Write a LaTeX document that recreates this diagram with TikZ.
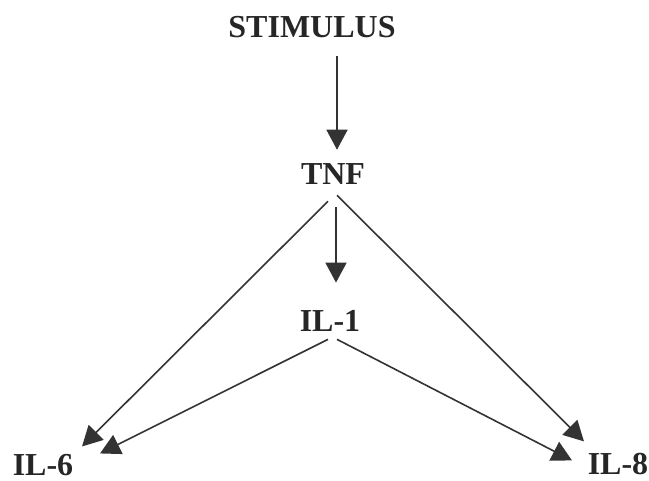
\documentclass[tikz,border=0pt]{standalone}
\usepackage{fontspec}
\setmainfont{Liberation Serif}
\usetikzlibrary{calc,arrows.meta,positioning}

\begin{document}
\begin{tikzpicture}[x=1pt,y=-1pt,>={Triangle[length=20pt,width=21pt]},
    font=\fontsize{32}{36}\selectfont\bfseries,line width=1.6pt,
    lbl/.style={inner sep=0pt,text=black!85},
    arr/.style={->,draw=black!80}]
    \useasboundingbox (0,0) rectangle (649,481);
    \node [lbl] (stim) at (312,27) {STIMULUS};
    \node [lbl] (tnf) at (333,174) {TNF};
    \node [lbl] (il1) at (330,321) {IL-1};
    \node [lbl] (il6) at (43,465) {IL-6};
    \node [lbl] (il8) at (618,464) {IL-8};
    \draw [arr] ($(tnf.north |- stim.south)+(4,17)$) -- ($(tnf.north)+(4,-13)$);
    \draw [arr] ($(tnf.south)+(3,22)$) -- ($(il1.north)+(6,-27)$);
    \draw [arr] ($(tnf.south)+(-5,16)$) -- ($(il6.north east)+(8,-7)$);
    \draw [arr] ($(tnf.south)+(4,10)$) -- ($(il8.north west)+(-3,-11)$);
    \draw [arr] ($(il1.south)+(-2,7)$) -- ($(il6.north east)+(26,0)$);
    \draw [arr] ($(il1.south)+(7,7)$) -- ($(il8.north west)+(-15,8)$);
\end{tikzpicture}
\end{document}
